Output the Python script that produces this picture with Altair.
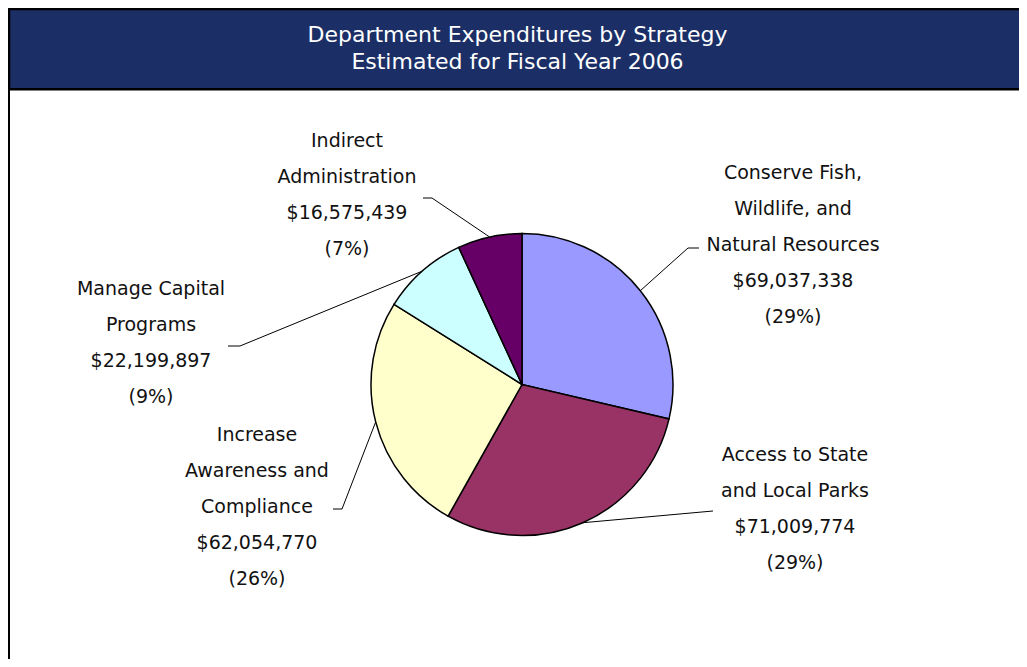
import math
import altair as alt
import pandas as pd

# ---- data -------------------------------------------------------------
CATEGORIES = [
    "Conserve Fish,\nWildlife, and\nNatural Resources",
    "Access to State\nand Local Parks",
    "Increase\nAwareness and\nCompliance",
    "Manage Capital\nPrograms",
    "Indirect\nAdministration",
]
AMOUNTS = [69037338, 71009774, 62054770, 22199897, 16575439]
COLORS = ["#9999FF", "#993366", "#FFFFCC", "#CCFFFF", "#660066"]
TITLE_LINES = ["Department Expenditures by Strategy", "Estimated for Fiscal Year 2006"]

# ---- layout (pixel positions inside the chart) -------------------------
W, H = 1011, 651
CX, CY, R = 514, 376.5, 151
NAVY = "#1B2F66"
FONT = "DejaVu Sans"
# first-line centre of each label block and leader-line anchor / elbow
LABEL_XY = [(785, 165), (787, 447), (249, 427), (143, 281), (339, 133)]
LEADER_START = [(691, 240), (705, 503), (325, 501), (220, 338), (415, 190)]
LEADER_ELBOW = [(680, 240), (705, 503), (334, 501), (232, 338), (424, 190)]
TITLE_Y = [33.7, 61.3]

total = sum(AMOUNTS)
pie_df = pd.DataFrame({
    "name": CATEGORIES,
    "value": AMOUNTS,
    "idx": list(range(len(CATEGORIES))),
})

label_rows, leader_rows = [], []
cum = 0
for i, (name, val) in enumerate(zip(CATEGORIES, AMOUNTS)):
    mid = (cum + val / 2) / total * 2 * math.pi
    cum += val
    pct = round(val / total * 100)
    text = f"{name}\n${val:,}\n({pct}%)"
    lx, ly = LABEL_XY[i]
    label_rows.append({"name": name, "label": text, "lx": lx, "ly": ly})
    px, py = CX + R * math.sin(mid), CY - R * math.cos(mid)
    for k, (x, y) in enumerate([LEADER_START[i], LEADER_ELBOW[i], (px, py)]):
        leader_rows.append({"name": name, "k": k, "px": x, "py": y})
label_df = pd.DataFrame(label_rows)
leader_df = pd.DataFrame(leader_rows)
title_df = pd.DataFrame({"t": TITLE_LINES, "ty": TITLE_Y})
dummy = pd.DataFrame({"a": [0]})

banner = alt.Chart(dummy).mark_rect(fill=NAVY, stroke="black", strokeWidth=2.5).encode(
    x=alt.value(1), x2=alt.value(1030), y=alt.value(1), y2=alt.value(81.3)
)
left_rule = alt.Chart(dummy).mark_rule(color="black", strokeWidth=2).encode(
    x=alt.value(1), y=alt.value(0), y2=alt.value(H)
)
title = alt.Chart(title_df).mark_text(
    color="white", fontSize=22, font=FONT, align="center", baseline="alphabetic"
).encode(
    x=alt.value(509.5),
    y=alt.Y("ty:Q", scale=None, axis=None),
    text="t:N",
)
pie = alt.Chart(pie_df).mark_arc(outerRadius=R, stroke="black", strokeWidth=1.5).encode(
    theta=alt.Theta("value:Q", stack=True),
    color=alt.Color("name:N", scale=alt.Scale(domain=CATEGORIES, range=COLORS), legend=None),
    order=alt.Order("idx:Q"),
    x=alt.value(CX),
    y=alt.value(CY),
)
leaders = alt.Chart(leader_df).mark_line(color="black", strokeWidth=1).encode(
    x=alt.X("px:Q", scale=None, axis=None),
    y=alt.Y("py:Q", scale=None, axis=None),
    detail="name:N",
    order="k:Q",
)
labels = alt.Chart(label_df).mark_text(
    fontSize=19, font=FONT, align="center", baseline="middle",
    lineBreak="\n", lineHeight=36, color="#111111"
).encode(
    x=alt.X("lx:Q", scale=None, axis=None),
    y=alt.Y("ly:Q", scale=None, axis=None),
    text="label:N",
)

chart = alt.layer(banner, left_rule, title, leaders, pie, labels).properties(
    width=W, height=H, autosize=alt.AutoSizeParams(type="none"), padding=0,
    background="white",
).configure_view(stroke=None)

chart.save("out.html", embed_options={"renderer": "svg", "actions": False})
